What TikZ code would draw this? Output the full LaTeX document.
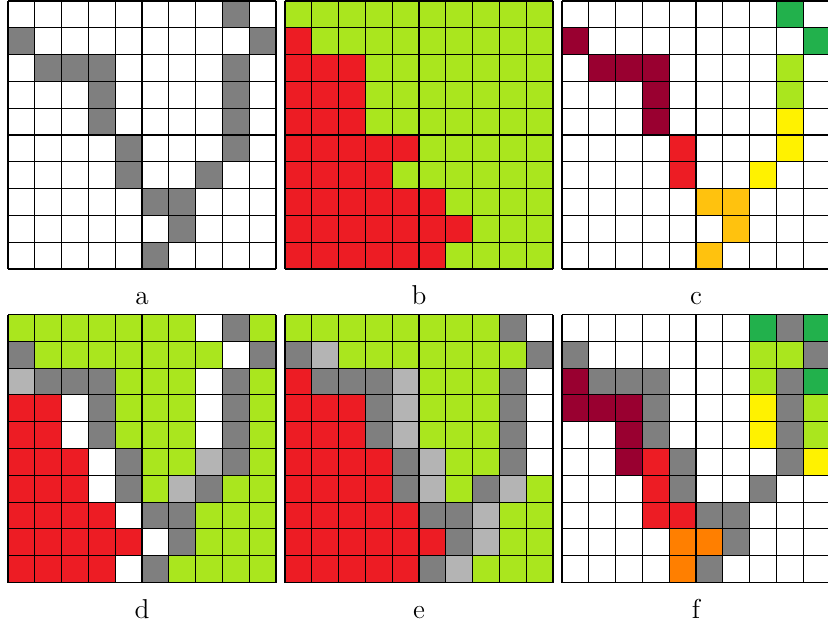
\documentclass[tikz,border=0pt]{standalone}
\usepackage{tikz}
\definecolor{celdaW}{HTML}{FFFFFF}
\definecolor{celdaG}{HTML}{7F7F7F}
\definecolor{celdaH}{HTML}{B4B4B4}
\definecolor{celdaL}{HTML}{AAE61E}
\definecolor{celdaR}{HTML}{ED1C24}
\definecolor{celdaD}{HTML}{990030}
\definecolor{celdaN}{HTML}{22B14C}
\definecolor{celdaY}{HTML}{FFF200}
\definecolor{celdaO}{HTML}{FFC20E}
\definecolor{celdaA}{HTML}{FF7F00}
\tikzset{
	rejilla/.style={
		line width=0.6pt,
		step=0.5cm,
		black
	},
	etiqueta/.style={
		anchor=base,
		font=\fontsize{14.5}{17}\selectfont
	}
}
% tablero de 10x10: esquina superior izquierda en (#1,#2), filas de arriba abajo
\newcommand{\tablero}[3]{%
	\begin{scope}[shift={(#1,#2)}]
		\foreach \fila [count=\i from 0] in {#3}{
			\foreach \col [count=\j from 0] in \fila{
				\fill[celda\col] (\j,-\i) rectangle ++(1,-1);
			}
		}
		\draw[rejilla] (0,0) grid (10,-10);
	\end{scope}}

\begin{document}
\begin{tikzpicture}[x=0.5cm,y=0.5cm]
		\useasboundingbox (-0.3,0.037) rectangle (30.597,-23.396);
		% fila superior
		\tablero{0}{0}{
			{W,W,W,W,W,W,W,W,G,W},
			{G,W,W,W,W,W,W,W,W,G},
			{W,G,G,G,W,W,W,W,G,W},
			{W,W,W,G,W,W,W,W,G,W},
			{W,W,W,G,W,W,W,W,G,W},
			{W,W,W,W,G,W,W,W,G,W},
			{W,W,W,W,G,W,W,G,W,W},
			{W,W,W,W,W,G,G,W,W,W},
			{W,W,W,W,W,W,G,W,W,W},
			{W,W,W,W,W,G,W,W,W,W}}
		\tablero{10.336}{0}{
			{L,L,L,L,L,L,L,L,L,L},
			{R,L,L,L,L,L,L,L,L,L},
			{R,R,R,L,L,L,L,L,L,L},
			{R,R,R,L,L,L,L,L,L,L},
			{R,R,R,L,L,L,L,L,L,L},
			{R,R,R,R,R,L,L,L,L,L},
			{R,R,R,R,L,L,L,L,L,L},
			{R,R,R,R,R,R,L,L,L,L},
			{R,R,R,R,R,R,R,L,L,L},
			{R,R,R,R,R,R,L,L,L,L}}
		\tablero{20.672}{0}{
			{W,W,W,W,W,W,W,W,N,W},
			{D,W,W,W,W,W,W,W,W,N},
			{W,D,D,D,W,W,W,W,L,W},
			{W,W,W,D,W,W,W,W,L,W},
			{W,W,W,D,W,W,W,W,Y,W},
			{W,W,W,W,R,W,W,W,Y,W},
			{W,W,W,W,R,W,W,Y,W,W},
			{W,W,W,W,W,O,O,W,W,W},
			{W,W,W,W,W,W,O,W,W,W},
			{W,W,W,W,W,O,W,W,W,W}}
		% fila inferior
		\tablero{0}{-11.70}{
			{L,L,L,L,L,L,L,W,G,L},
			{G,L,L,L,L,L,L,L,W,G},
			{H,G,G,G,L,L,L,W,G,L},
			{R,R,W,G,L,L,L,W,G,L},
			{R,R,W,G,L,L,L,W,G,L},
			{R,R,R,W,G,L,L,H,G,L},
			{R,R,R,W,G,L,H,G,L,L},
			{R,R,R,R,W,G,G,L,L,L},
			{R,R,R,R,R,W,G,L,L,L},
			{R,R,R,R,W,G,L,L,L,L}}
		\tablero{10.336}{-11.70}{
			{L,L,L,L,L,L,L,L,G,W},
			{G,H,L,L,L,L,L,L,L,G},
			{R,G,G,G,H,L,L,L,G,W},
			{R,R,R,G,H,L,L,L,G,W},
			{R,R,R,G,H,L,L,L,G,W},
			{R,R,R,R,G,H,L,L,G,W},
			{R,R,R,R,G,H,L,G,H,L},
			{R,R,R,R,R,G,G,H,L,L},
			{R,R,R,R,R,R,G,H,L,L},
			{R,R,R,R,R,G,H,L,L,L}}
		\tablero{20.672}{-11.70}{
			{W,W,W,W,W,W,W,N,G,N},
			{G,W,W,W,W,W,W,L,L,G},
			{D,G,G,G,W,W,W,L,G,N},
			{D,D,D,G,W,W,W,Y,G,L},
			{W,W,D,G,W,W,W,Y,G,L},
			{W,W,D,R,G,W,W,W,G,Y},
			{W,W,W,R,G,W,W,G,W,W},
			{W,W,W,R,R,G,G,W,W,W},
			{W,W,W,W,A,A,G,W,W,W},
			{W,W,W,W,A,G,W,W,W,W}}
		% etiquetas
		\foreach \x/\lab in {5/a,15.336/b,25.672/c}{
			\node[etiqueta] (etiq\lab) at (\x,-11.34) {\lab};
		}
		\foreach \x/\lab in {5/d,15.336/e,25.672/f}{
			\node[etiqueta] (etiq\lab) at (\x,-23.06) {\lab};
		}
	\end{tikzpicture}
\end{document}
